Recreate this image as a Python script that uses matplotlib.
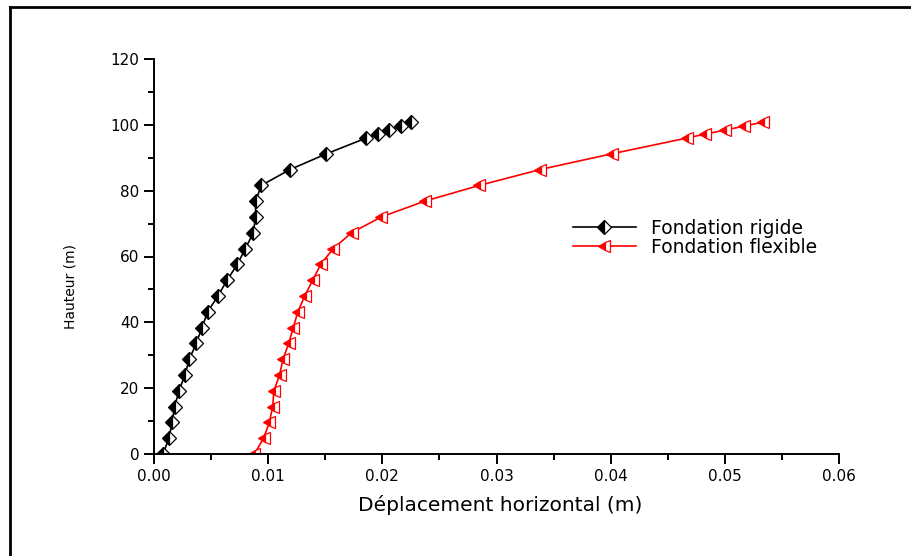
import numpy as np
import matplotlib
matplotlib.use('Agg')
import matplotlib.pyplot as plt
from matplotlib.lines import Line2D
from matplotlib.ticker import MultipleLocator, FormatStrFormatter

plt.rcParams['font.family'] = ['DejaVu Sans']

# storey heights (m)
hauteur = [0.0, 4.8, 9.6, 14.4, 19.2, 24.0, 28.8, 33.6, 38.4, 43.2, 48.0, 52.8,
           57.6, 62.4, 67.2, 72.0, 76.8, 81.6, 86.4, 91.2, 96.0, 97.2, 98.4,
           99.6, 100.8]

# horizontal displacement (m)
depl_rigide = [0.0008, 0.0013, 0.0016, 0.0018, 0.0022, 0.0027, 0.0031, 0.0037,
               0.0042, 0.0047, 0.0056, 0.0064, 0.0073, 0.0080, 0.0087, 0.0089,
               0.0089, 0.0094, 0.0119, 0.0151, 0.0186, 0.0196, 0.0206, 0.0216,
               0.0225]
depl_flexible = [0.0088, 0.0096, 0.0101, 0.0104, 0.0105, 0.0110, 0.0113, 0.0118,
                 0.0122, 0.0126, 0.0132, 0.0139, 0.0146, 0.0157, 0.0173, 0.0199,
                 0.0237, 0.0285, 0.0338, 0.0401, 0.0467, 0.0483, 0.0500, 0.0517,
                 0.0533]

fig = plt.figure(figsize=(9.11, 5.56), dpi=100)
ax = fig.add_axes([154 / 911, 1 - 454 / 556, 685 / 911, 395 / 556])

ax.plot(depl_rigide, hauteur, color='black', lw=1.2, marker='D', ms=7.5,
        fillstyle='left', markerfacecolor='black', markerfacecoloralt='white',
        markeredgecolor='black', markeredgewidth=0.9, label='Fondation rigide')
ax.plot(depl_flexible, hauteur, color='red', lw=1.2, marker='<', ms=8.5,
        fillstyle='left', markerfacecolor='red', markerfacecoloralt='white',
        markeredgecolor='red', markeredgewidth=0.9, label='Fondation flexible')

ax.set_xlim(0, 0.06)
ax.set_ylim(0, 120)
ax.xaxis.set_major_locator(MultipleLocator(0.01))
ax.xaxis.set_minor_locator(MultipleLocator(0.005))
ax.xaxis.set_major_formatter(FormatStrFormatter('%.2f'))
ax.yaxis.set_major_locator(MultipleLocator(20))
ax.yaxis.set_minor_locator(MultipleLocator(10))

for s in ['top', 'right']:
    ax.spines[s].set_visible(False)
for s in ['left', 'bottom']:
    ax.spines[s].set_linewidth(1.4)
ax.tick_params(which='major', direction='out', length=7, width=1.4, labelsize=11)
ax.tick_params(which='minor', direction='out', length=4, width=1.4)

ax.set_xlabel('Déplacement horizontal (m)', fontsize=14.5)
ax.set_ylabel('Hauteur (m)', fontsize=10)
ax.xaxis.set_label_coords(0.505, -0.105)
ax.yaxis.set_label_coords(-0.112, 0.423)

ax.legend(loc='upper left', bbox_to_anchor=(0.6, 0.615), frameon=False,
          fontsize=13.5, handlelength=3.4, handletextpad=0.8, labelspacing=0.0,
          borderaxespad=0)

# outer frame
fig.add_artist(Line2D([10 / 911, 1.01], [1 - 7 / 556, 1 - 7 / 556],
                      transform=fig.transFigure, color='black', lw=2))
fig.add_artist(Line2D([10 / 911, 10 / 911], [1 - 7 / 556, -0.01],
                      transform=fig.transFigure, color='black', lw=2))

fig.savefig('out.png', dpi=100)
